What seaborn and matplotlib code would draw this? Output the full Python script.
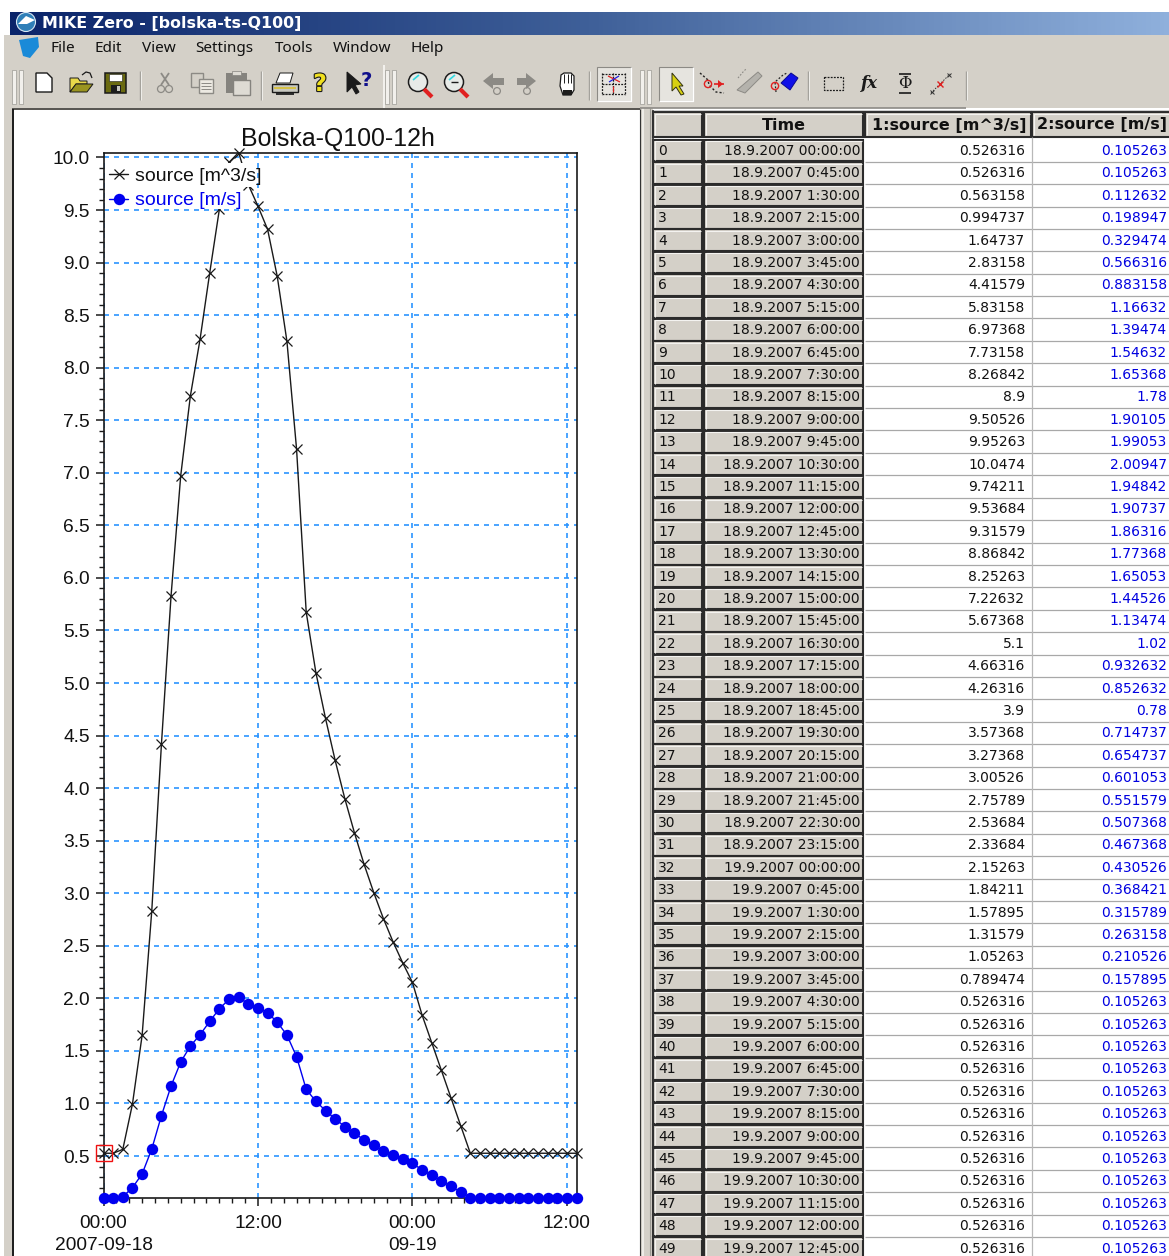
import pandas as pd
import numpy as np
import matplotlib
matplotlib.use('Agg')
import matplotlib.pyplot as plt
import matplotlib.dates as mdates
import matplotlib.patheffects as pe
from matplotlib.colors import LinearSegmentedColormap
from matplotlib.patches import Rectangle, Polygon, Circle
from matplotlib.ticker import MultipleLocator, FormatStrFormatter
import seaborn as sns

time_labels = [
    '18.9.2007 00:00:00', '18.9.2007 0:45:00', '18.9.2007 1:30:00', '18.9.2007 2:15:00', '18.9.2007 3:00:00',
    '18.9.2007 3:45:00', '18.9.2007 4:30:00', '18.9.2007 5:15:00', '18.9.2007 6:00:00', '18.9.2007 6:45:00',
    '18.9.2007 7:30:00', '18.9.2007 8:15:00', '18.9.2007 9:00:00', '18.9.2007 9:45:00', '18.9.2007 10:30:00',
    '18.9.2007 11:15:00', '18.9.2007 12:00:00', '18.9.2007 12:45:00', '18.9.2007 13:30:00', '18.9.2007 14:15:00',
    '18.9.2007 15:00:00', '18.9.2007 15:45:00', '18.9.2007 16:30:00', '18.9.2007 17:15:00', '18.9.2007 18:00:00',
    '18.9.2007 18:45:00', '18.9.2007 19:30:00', '18.9.2007 20:15:00', '18.9.2007 21:00:00', '18.9.2007 21:45:00',
    '18.9.2007 22:30:00', '18.9.2007 23:15:00', '19.9.2007 00:00:00', '19.9.2007 0:45:00', '19.9.2007 1:30:00',
    '19.9.2007 2:15:00', '19.9.2007 3:00:00', '19.9.2007 3:45:00', '19.9.2007 4:30:00', '19.9.2007 5:15:00',
    '19.9.2007 6:00:00', '19.9.2007 6:45:00', '19.9.2007 7:30:00', '19.9.2007 8:15:00', '19.9.2007 9:00:00',
    '19.9.2007 9:45:00', '19.9.2007 10:30:00', '19.9.2007 11:15:00', '19.9.2007 12:00:00', '19.9.2007 12:45:00']
source_q = [
    0.526316, 0.526316, 0.563158, 0.994737, 1.64737, 2.83158, 4.41579, 5.83158, 6.97368, 7.73158,
    8.26842, 8.9, 9.50526, 9.95263, 10.0474, 9.74211, 9.53684, 9.31579, 8.86842, 8.25263,
    7.22632, 5.67368, 5.1, 4.66316, 4.26316, 3.9, 3.57368, 3.27368, 3.00526, 2.75789,
    2.53684, 2.33684, 2.15263, 1.84211, 1.57895, 1.31579, 1.05263, 0.789474, 0.526316, 0.526316,
    0.526316, 0.526316, 0.526316, 0.526316, 0.526316, 0.526316, 0.526316, 0.526316, 0.526316, 0.526316]
source_v = [
    0.105263, 0.105263, 0.112632, 0.198947, 0.329474, 0.566316, 0.883158, 1.16632, 1.39474, 1.54632,
    1.65368, 1.78, 1.90105, 1.99053, 2.00947, 1.94842, 1.90737, 1.86316, 1.77368, 1.65053,
    1.44526, 1.13474, 1.02, 0.932632, 0.852632, 0.78, 0.714737, 0.654737, 0.601053, 0.551579,
    0.507368, 0.467368, 0.430526, 0.368421, 0.315789, 0.263158, 0.210526, 0.157895, 0.105263, 0.105263,
    0.105263, 0.105263, 0.105263, 0.105263, 0.105263, 0.105263, 0.105263, 0.105263, 0.105263, 0.105263]
xtick_times = ['2007-09-18 00:00', '2007-09-18 12:00', '2007-09-19 00:00', '2007-09-19 12:00']
xtick_labels = ['00:00\n2007-09-18', '12:00', '00:00\n09-19', '12:00']
menu_items = ['File', 'Edit', 'View', 'Settings', 'Tools', 'Window', 'Help']
menu_x = [50, 94, 142, 195, 275, 333, 411]
headers = ['Time', '1:source [m^3/s]', '2:source [m/s]']

df = pd.DataFrame({'time': pd.to_datetime(time_labels, format='%d.%m.%Y %H:%M:%S'),
                   'q': source_q, 'v': source_v})

W, H = 1169, 1256
GREY = '#d4d0c8'
sns.set_theme(style='ticks')
plt.rcParams['font.family'] = ['Liberation Sans', 'DejaVu Sans']
fig = plt.figure(figsize=(W / 100, H / 100), dpi=100, facecolor='white')

# --- window chrome, drawn in pixel coordinates ---
bg = fig.add_axes([0, 0, 1, 1], zorder=0)
bar_cmap = LinearSegmentedColormap.from_list('bar', ['#0a246a', '#3f6099', '#8fb0dc'])
bg.imshow(np.linspace(0, 1, 256)[None, :], extent=[10, W, 35, 12], cmap=bar_cmap, aspect='auto')
bg.set_xlim(0, W)
bg.set_ylim(H, 0)
bg.axis('off')


def rect(x0, y0, x1, y1, fc='none', ec='none', lw=0.0, z=1):
    bg.add_patch(Rectangle((x0, y0), x1 - x0, y1 - y0, fc=fc, ec=ec, lw=lw, zorder=z))


def line(xs, ys, c='k', lw=0.8, ls='-', z=3):
    bg.plot(xs, ys, color=c, lw=lw, ls=ls, zorder=z, solid_capstyle='butt')


def poly(pts, fc='none', ec='k', lw=0.7, z=3):
    bg.add_patch(Polygon(pts, closed=True, fc=fc, ec=ec, lw=lw, zorder=z))


def circ(x, y, r, fc='none', ec='k', lw=0.9, z=3):
    bg.add_patch(Circle((x, y), r, fc=fc, ec=ec, lw=lw, zorder=z))


rect(10, 35, W, 108, fc=GREY)
rect(4, 35, 12, H, fc=GREY)
rect(640, 108, 653, H, fc=GREY)
line([643, 643], [108, H], c='#f4f2ee', lw=1.2)
line([650, 650], [108, H], c='#9c9a94', lw=0.8)
line([12, 640], [108.5, 108.5], c='#55534f', lw=1.4)
line([640, 966], [107.5, 107.5], c='#8c8a85', lw=1.2)
line([12.5, 12.5], [109, H], c='k', lw=1.4)
line([639.5, 639.5], [109, H], c='#333333', lw=0.8)

# title bar + menu
circ(26, 22, 9.5, fc='#2f7fb8', ec='#d8e8f4', lw=0.8)
poly([(18, 24), (26, 16), (35, 20), (27, 24)], fc='white', ec='none')
bg.text(42, 23.5, 'MIKE Zero - [bolska-ts-Q100]', color='white', fontsize=11.4, fontweight='bold',
        family='DejaVu Sans', va='center', ha='left')
poly([(19, 40), (38, 37), (39, 47), (30, 58), (23, 56)], fc='#1a8ad8', ec='none')
for name, mx in zip(menu_items, menu_x):
    bg.text(mx, 49, name, fontsize=11, family='Noto Sans', color='#111111', va='center', ha='left')


# toolbar
def grip(x):
    for dx in (0, 7):
        rect(x + dx, 70, x + dx + 3.5, 104, fc='#f2f0ec', ec='#9c9a94', lw=0.5)


def sep(x):
    line([x, x], [71, 100], c='#a4a29c', lw=1.0)
    line([x + 1.2, x + 1.2], [71, 100], c='#f6f5f2', lw=0.6)


def pressed(x0, x1):
    rect(x0, 67, x1, 101, fc='#e6e4df', ec='#8c8a85', lw=0.8)
    line([x0, x1, x1], [101, 101, 67], c='white', lw=1.0)


for gx in (12, 385, 640):
    grip(gx)
rect(383, 65, 385, 108, fc='#f2f0ec')
for sx in (140, 261, 589, 808, 966):
    sep(sx)

# new / open / save
poly([(36, 73), (47, 73), (52, 78), (52, 92), (36, 92)], fc='white', ec='k', lw=1.0)
poly([(70, 92), (70, 78), (78, 78), (80, 81), (87, 81), (87, 84), (76, 84), (70, 92)], fc='#e8d84a', ec='k')
poly([(70, 92), (76, 84), (93, 84), (87, 92)], fc='#9a9420', ec='k')
line([82, 86, 90, 92], [75, 72, 73, 78], c='k', lw=0.9)
rect(105, 73, 126, 93, fc='#6a6a10', ec='k', lw=1.1)
rect(109, 74, 122, 81, fc='white', ec='k', lw=0.4)
rect(111, 85, 121, 93, fc='#1c1c1c', z=3)
rect(117, 86, 120, 91, fc='#c8c8c0', z=4)

# cut / copy / paste (disabled)
line([161, 169], [73, 85], c='#8c8a85', lw=1.3)
line([169, 161], [73, 85], c='#8c8a85', lw=1.3)
circ(161, 89, 3.5, ec='#8c8a85')
circ(169, 89, 3.5, ec='#8c8a85')
rect(191, 73, 203, 87, fc=GREY, ec='#8c8a85', lw=1.0, z=3)
rect(199, 79, 213, 93, fc='#ece9e2', ec='#8c8a85', lw=1.0, z=4)
for ly in (83, 86, 89):
    line([201, 211], [ly, ly], c='#8c8a85', lw=0.7, z=5)
rect(226, 73, 247, 93, fc='#85837e', z=3)
rect(233, 80, 250, 95, fc='#dedbd4', ec='#85837e', lw=1.0, z=4)
rect(232, 71, 241, 75, fc='#dedbd4', ec='#85837e', lw=0.5, z=4)

# print / help / what's this
poly([(276, 83), (280, 73), (293, 73), (290, 83)], fc='white', ec='k')
poly([(272, 84), (298, 84), (298, 92), (272, 92)], fc='#c8c8c0', ec='k', lw=1.0)
line([274, 296], [88, 88], c='#d8c030', lw=1.2, z=4)
rect(276, 92, 294, 95, fc='#303030')
bg.text(320, 84, '?', fontsize=17, fontweight='bold', color='#f0e020', family='DejaVu Sans', va='center', ha='center',
        path_effects=[pe.withStroke(linewidth=1.6, foreground='k')])
poly([(347, 72), (347, 92), (352, 87), (356, 94), (359, 92), (355, 85), (361, 84)], fc='k', ec='k')
bg.text(366, 81, '?', fontsize=14, fontweight='bold', color='#10108c', family='DejaVu Sans', va='center', ha='center')

# zoom in / zoom out
for zx in (420, 456):
    circ(zx - 2, 82, 9.5, fc='#e8ebe8', ec='#1c1c1c', lw=1.1, z=3)
    line([zx + 4, zx + 12], [89, 97], c='#e02020', lw=3.0, z=4)
    line([zx - 7, zx - 1], [80, 75], c='#30d8e0', lw=1.2, z=4)
line([451, 458], [82, 82], c='#1c1c1c', lw=1.0, z=5)

# history arrows + hand
poly([(483, 81), (493, 73), (493, 78), (504, 78), (504, 85), (493, 85), (493, 89)], fc='#8c8a85', ec='none')
poly([(536, 81), (526, 73), (526, 78), (517, 78), (517, 85), (526, 85), (526, 89)], fc='#8c8a85', ec='none')
circ(497, 91, 3.4, ec='#8c8a85')
circ(527, 91, 3.4, ec='#8c8a85')
poly([(560, 86), (561, 75), (564, 73), (571, 73), (574, 76), (574, 90), (571, 95), (563, 95)], fc='white', ec='k', lw=0.9)
for hx in (564, 567.5, 571):
    line([hx, hx], [74, 83], c='k', lw=0.7, z=4)
rect(563, 90, 572, 95, fc='#1c1c1c', z=4)

# pressed grid button
pressed(597, 631)
for gv in (602, 613, 625):
    line([gv, gv], [73, 95], c='#1c1c1c', lw=0.9, ls=(0, (1.5, 1)))
for gh in (74, 84, 94):
    line([602, 625], [gh, gh], c='#1c1c1c', lw=0.9, ls=(0, (1.5, 1)))
line([608, 620], [76, 82], c='#e02020', lw=0.9, z=4)
line([609, 619], [82, 76], c='#2020e0', lw=0.9, z=4)
line([613, 613], [86, 92], c='#e02020', lw=0.9, z=4)

# mode buttons
pressed(659, 693)
poly([(672, 73), (683, 86), (679, 86), (684, 94), (681, 95), (676, 87), (672, 91)], fc='#d8d010', ec='#303010')
line([700, 708, 709, 716, 724], [73, 80, 85, 92, 93], c='#222222', lw=1.0, ls=(0, (1.5, 1.5)))
circ(708, 84, 3.6, ec='#e02020', lw=1.0, z=4)
line([714, 724], [84, 84], c='#e02020', lw=1.2)
poly([(723, 84), (718, 80), (718, 88)], fc='#e02020', ec='none')
poly([(737, 90), (758, 72), (762, 76), (745, 93)], fc='#b4b2ac', ec='#8c8a85')
line([738, 743, 746], [78, 72, 69], c='#8c8a85', lw=0.8, ls=(0, (1.5, 1.5)))
line([776, 775, 783, 787], [92, 82, 75, 73], c='#222222', lw=0.9, ls=(0, (1.5, 1.5)))
circ(775, 86, 3.6, ec='#e02020', lw=1.0, z=4)
poly([(781, 83), (791, 73), (798, 78), (790, 90)], fc='#1010e8', ec='#0a0a90')

# region / fx / phi / ruler
rect(824, 77, 843, 90, ec='k', lw=0.9, z=3)
bg.patches[-1].set_linestyle((0, (1.5, 1)))
bg.text(869, 84, 'fx', fontsize=12, color='k', va='center', ha='center', family='DejaVu Serif',
        fontstyle='italic', fontweight='bold')
bg.text(905, 84, '\u03a6', fontsize=12, color='k', family='DejaVu Serif', va='center', ha='center')
line([899, 911], [74, 74], c='k', lw=1.2)
line([899, 911], [93, 93], c='k', lw=1.2)
line([931, 950], [93, 74], c='#333333', lw=0.7, ls=(0, (1.5, 1.5)))
bg.plot([932, 949], [92, 75], ls='none', marker='x', ms=3.5, mew=0.7, color='#333333', zorder=3)
bg.plot([940], [84], ls='none', marker='x', ms=4.5, mew=1.0, color='#e02020', zorder=4)

# --- data table ---
idx_x = (653, 702)
time_x = (704, 863)
col1_x = (865, 1031)
col2_x = (1032, 1169)
row0 = 150.5
step = 22.4
rect(653, 110, W, H, fc='white')
line([652.5, 652.5], [110, H], c='#333333', lw=1.2)
line([652.5, W], [110.5, 110.5], c='#333333', lw=1.0)


def cell(x0, y0, x1, y1):
    rect(x0, y0, x1, y1, fc=GREY, ec='#2b2b2b', lw=1.5, z=2)
    line([x0 + 1.5, x0 + 1.5, x1 - 1.5], [y1 - 1.5, y0 + 1.5, y0 + 1.5], c='#f4f3f0', lw=0.8, z=3)


cell(idx_x[0], 112, idx_x[1], 136.5)
cell(time_x[0], 112, time_x[1], 136.5)
cell(col1_x[0], 112, col1_x[1], 136.5)
cell(col2_x[0], 112, W + 3, 136.5)
head_font = dict(fontsize=11.5, fontweight='bold', family='DejaVu Sans', color='#111111', va='center')
bg.text(784, 125, headers[0], ha='center', **head_font)
bg.text(1026, 125.5, headers[1], ha='right', **head_font)
bg.text(1167, 124.5, headers[2], ha='right', **head_font)
cell_font = dict(fontsize=10, family='DejaVu Sans', va='center')
for k, (lab, q, v) in enumerate(zip(time_labels, source_q, source_v)):
    yc = row0 + step * k
    y0, y1 = yc - step / 2 + 0.4, yc + step / 2 - 0.4
    cell(idx_x[0], y0, idx_x[1], y1)
    cell(time_x[0], y0, time_x[1], y1)
    line([col1_x[0], W], [y1 + 0.4, y1 + 0.4], c='#a8a8a8', lw=0.9, z=2)
    bg.text(658, yc + 0.5, str(k), ha='left', color='#111111', **cell_font)
    bg.text(860, yc + 0.5, lab, ha='right', color='#111111', **cell_font)
    bg.text(1025, yc + 0.5, f'{q:.6g}', ha='right', color='#111111', **cell_font)
    bg.text(1167, yc + 0.5, f'{v:.6g}', ha='right', color='#0000e0', **cell_font)
line([1031.5, 1031.5], [137, H], c='#b8b8b8', lw=0.9, z=2)

# --- the chart ---
left, right, top, bottom = 103.5, 576.5, 152.5, 1197.5
ax = fig.add_axes([left / W, 1 - bottom / H, (right - left) / W, (bottom - top) / H], zorder=2)

sns.lineplot(data=df, x='time', y='q', ax=ax, color='k', lw=1.0, marker='x', markersize=7.4,
             markeredgewidth=0.9, markeredgecolor='k', label='source [m^3/s]', errorbar=None, clip_on=False, zorder=3)
sns.lineplot(data=df, x='time', y='v', ax=ax, color='#0000f0', lw=1.0, marker='o', markersize=8.2,
             markeredgewidth=0, label='source [m/s]', errorbar=None, clip_on=False, zorder=4)
ax.plot(df['time'].iloc[:1], df['q'].iloc[:1], ls='none', marker='s', ms=11.5, mfc='none', mec='#f01010',
        mew=1.0, clip_on=False, zorder=6)

ax.set_xlim(df['time'].iloc[0], df['time'].iloc[-1])
ax.set_ylim(min(source_v), max(source_q))
ax.set_xlabel('')
ax.set_ylabel('')
ttl = ax.set_title('Bolska-Q100-12h', fontsize=17.9, color='#111111', pad=5)
ttl.set_x(0.496)

ax.set_xticks(pd.to_datetime(xtick_times))
ax.set_xticklabels(xtick_labels, fontsize=13.8, color='#111111', linespacing=1.34)
ax.xaxis.set_minor_locator(mdates.HourLocator())
ax.yaxis.set_major_locator(MultipleLocator(0.5))
ax.yaxis.set_minor_locator(MultipleLocator(0.1))
ax.yaxis.set_major_formatter(FormatStrFormatter('%.1f'))
ax.tick_params(axis='y', labelsize=13.8, labelcolor='#111111')
ax.tick_params(which='major', length=5.8, width=1.1, color='k', pad=4)
ax.tick_params(axis='x', which='major', pad=7)
ax.tick_params(which='minor', length=3.6, width=1.0, color='k')
ax.grid(True, which='major', color='#2b95ff', lw=1.2, ls=(0, (3.0, 3.0)))
ax.set_axisbelow(True)
for s in ax.spines.values():
    s.set_visible(True)
    s.set_color('k')
    s.set_linewidth(1.2)

# the program blanks the plot behind each legend row separately
for x0, y0, x1, y1 in [(108, 163, 256.5, 187), (108, 187, 242, 209)]:
    ax.add_patch(Rectangle((x0, y0), x1 - x0, y1 - y0, fc='white', ec='none', transform=bg.transData, zorder=4.5))

leg = ax.legend(loc='upper left', bbox_to_anchor=(0.0102, 0.9868), fontsize=14, frameon=False,
                handlelength=0.95, handletextpad=0.38, labelspacing=0.36, borderpad=0.05, borderaxespad=0)
for t, c in zip(leg.get_texts(), ['#111111', '#0000f0']):
    t.set_color(c)

plt.savefig('out.png', dpi=100)
